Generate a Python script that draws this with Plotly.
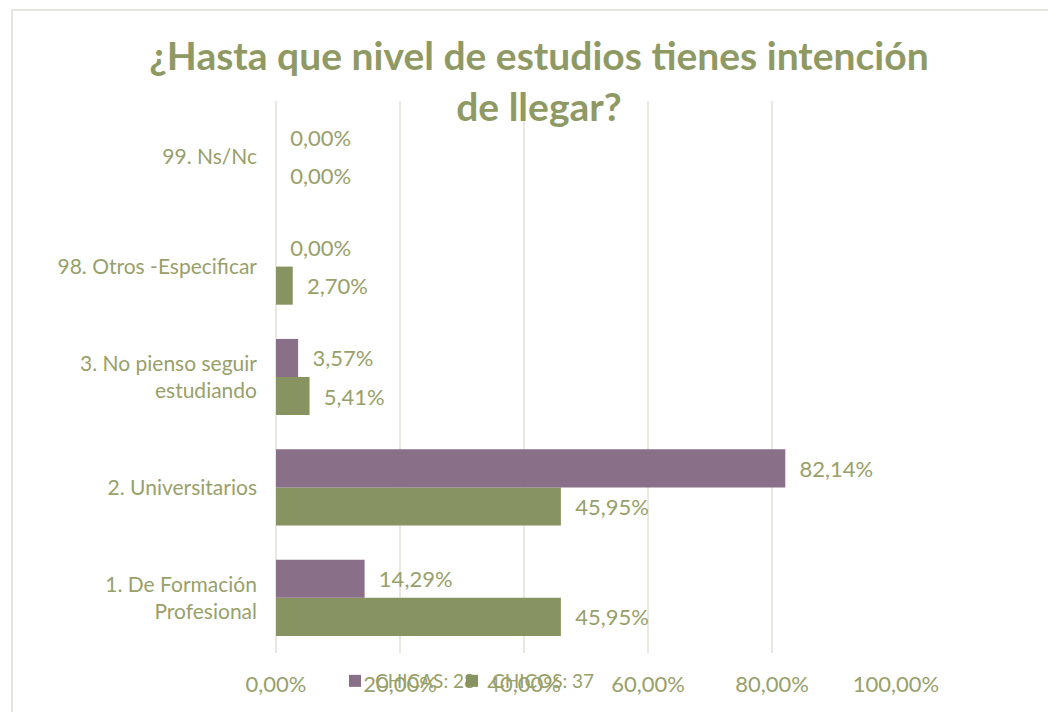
import plotly.graph_objects as go

categories = ["1. De Formación<br>Profesional", "2. Universitarios",
              "3. No pienso seguir<br>estudiando", "98. Otros -Especificar", "99. Ns/Nc"]
chicas = [14.29, 82.14, 3.57, 0.00, 0.00]
chicos = [45.95, 45.95, 5.41, 2.70, 0.00]
tick_vals = [0, 20, 40, 60, 80, 100]
tick_text = ["0,00%", "20,00%", "40,00%", "60,00%", "80,00%", "100,00%"]

TXT = "#98a06a"
TITLE = "#8f9964"
FONT = "Lato"

# page has an 8px body margin; figure is drawn at page offset (8, 8)
OFF = 8
W, H = 1056 - OFF, 712 - OFF


def fx(X):  # reference page pixel -> figure pixel
    return X - OFF


L = fx(276)
T = fx(101)
R = W - fx(896)
B = H - fx(653)
pw, ph = W - L - R, H - T - B


def px_x(X):
    return (fx(X) - L) / pw


def px_y(Y):
    return (H - B - fx(Y)) / ph


fig = go.Figure()
fig.add_trace(go.Bar(
    y=categories, x=chicos, orientation="h", name="CHICOS: 37", legend="legend2",
    marker=dict(color="#879360", line=dict(width=0)),
    texttemplate="\u00a0\u00a0%{x:.2f}%", textposition="outside",
    textfont=dict(size=22, color=TXT, family=FONT), cliponaxis=False,
))
fig.add_trace(go.Bar(
    y=categories, x=chicas, orientation="h", name="CHICAS: 28", legend="legend",
    marker=dict(color="#8a6f88", line=dict(width=0)),
    texttemplate="\u00a0\u00a0%{x:.2f}%", textposition="outside",
    textfont=dict(size=22, color=TXT, family=FONT), cliponaxis=False,
))

legend_style = dict(orientation="h", xanchor="left", y=px_y(681), yanchor="middle",
                    bgcolor="rgba(0,0,0,0)", font=dict(size=19, color=TXT, family=FONT),
                    itemwidth=30)

fig.update_layout(
    width=W, height=H,
    margin=dict(l=L, r=R, t=T, b=B),
    paper_bgcolor="white", plot_bgcolor="white",
    separators=",.",
    barmode="group", bargap=0.31, bargroupgap=0,
    font=dict(family=FONT, color=TXT, size=20),
    title=dict(text="<b>¿Hasta que nivel de estudios tienes intención<br>de llegar?</b>",
               x=(fx(539)) / W, xanchor="center", y=1 - fx(70) / H, yanchor="top",
               font=dict(size=39, color=TITLE, family=FONT)),
    xaxis=dict(range=[0, 100], tickvals=tick_vals, ticktext=tick_text,
               showgrid=True, gridcolor="#e9e9e2", gridwidth=2,
               zeroline=True, zerolinecolor="#e9e9e2", zerolinewidth=2,
               showline=False, ticks="", ticklabelstandoff=16,
               tickfont=dict(size=22, color=TXT, family=FONT)),
    yaxis=dict(showgrid=False, zeroline=False, showline=False, ticks="",
               ticklabelstandoff=18,
               tickfont=dict(size=21, color=TXT, family=FONT)),
    legend=dict(x=px_x(335), **legend_style),
    legend2=dict(x=px_x(452), **legend_style),
    showlegend=True,
    shapes=[dict(type="rect", xref="paper", yref="paper",
                 x0=px_x(12), x1=px_x(1070), y0=px_y(720), y1=px_y(10),
                 line=dict(color="#e6e6df", width=2), fillcolor="rgba(0,0,0,0)", layer="below")],
)

fig.write_html("out.html")
